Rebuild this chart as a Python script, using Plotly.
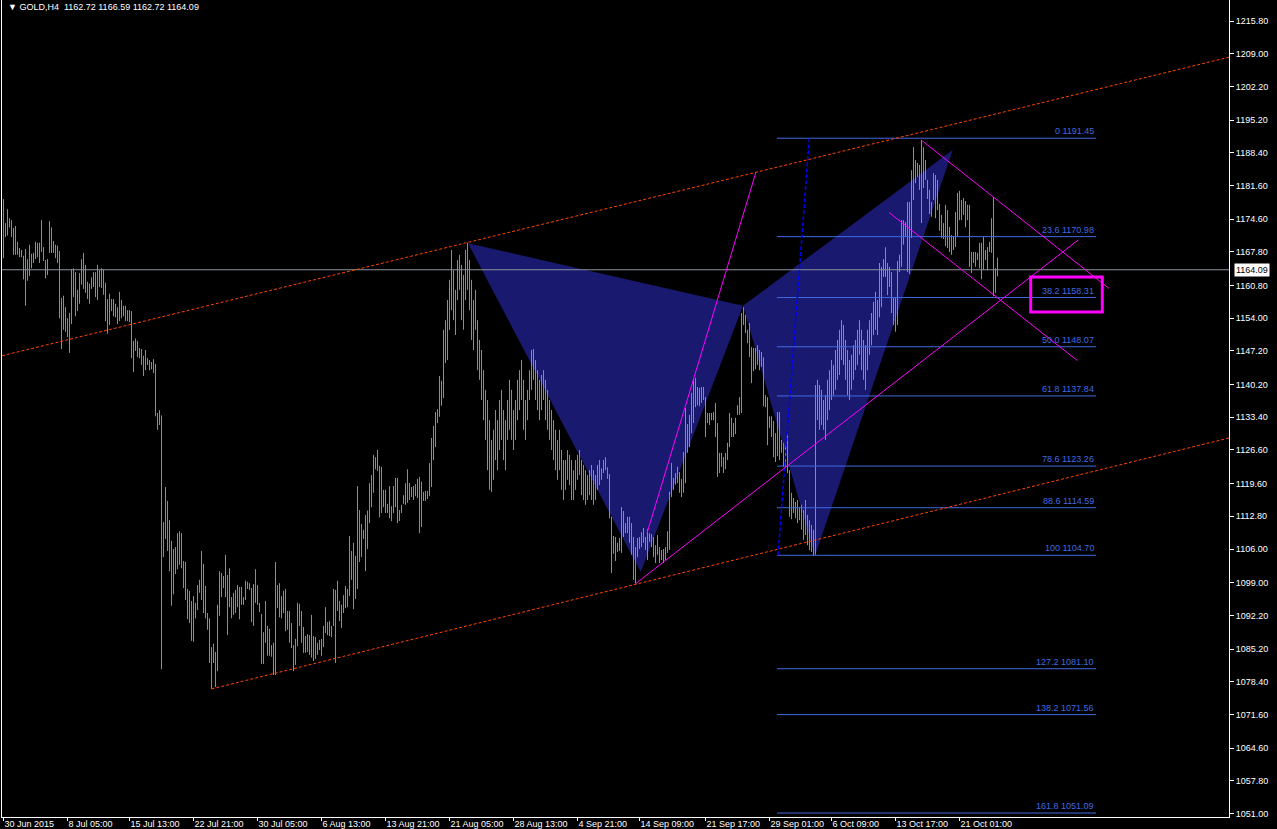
import plotly.graph_objects as go

# ---------------- data ----------------
bar_high = [
    1178.8, 1173.8, 1176.7, 1174.8, 1174.4, 1172.8, 1173.2, 1169.9, 1168.6, 1168.2,
    1167.0, 1168.4, 1166.3, 1169.3, 1167.4, 1167.6, 1169.9, 1169.7, 1169.7, 1174.4,
    1168.8, 1166.1, 1166.3, 1174.2, 1172.9, 1170.1, 1169.3, 1169.1, 1168.0, 1158.2,
    1158.7, 1156.3, 1154.0, 1155.1, 1164.2, 1164.4, 1163.6, 1159.9, 1163.4, 1166.3,
    1167.6, 1165.1, 1161.6, 1161.2, 1162.5, 1163.6, 1163.6, 1165.1, 1164.0, 1164.4,
    1164.2, 1161.4, 1158.0, 1159.1, 1158.0, 1158.0, 1157.0, 1156.3, 1159.5, 1157.8,
    1156.6, 1156.6, 1155.7, 1155.7, 1155.5, 1149.3, 1149.8, 1149.3, 1147.8, 1147.6,
    1146.2, 1147.4, 1145.7, 1145.3, 1144.9, 1145.5, 1144.5, 1134.3, 1134.9, 1133.8,
    1111.6, 1118.9, 1116.0, 1112.0, 1107.7, 1106.0, 1106.4, 1109.3, 1109.7, 1109.3,
    1103.5, 1103.3, 1097.7, 1097.3, 1095.2, 1096.2, 1094.8, 1098.5, 1099.6, 1105.6,
    1102.9, 1098.3, 1092.7, 1091.6, 1085.6, 1086.3, 1084.6, 1094.4, 1101.4, 1101.0,
    1100.4, 1104.8, 1100.6, 1102.0, 1096.0, 1096.9, 1097.5, 1098.5, 1098.1, 1098.1,
    1096.0, 1099.4, 1099.2, 1098.9, 1097.9, 1098.7, 1101.8, 1098.5, 1094.8, 1092.5,
    1088.7, 1095.2, 1090.0, 1089.4, 1086.0, 1086.5, 1103.3, 1098.5, 1098.9, 1096.2,
    1097.3, 1097.7, 1093.1, 1093.1, 1090.6, 1086.0, 1087.3, 1094.8, 1094.6, 1093.1,
    1089.8, 1087.9, 1088.3, 1088.1, 1092.3, 1087.9, 1087.7, 1086.5, 1087.1, 1087.3,
    1090.0, 1093.9, 1090.8, 1091.0, 1090.0, 1097.7, 1097.5, 1099.4, 1095.2, 1094.4,
    1096.4, 1098.3, 1097.7, 1108.7, 1105.6, 1107.3, 1104.6, 1119.1, 1114.1, 1111.2,
    1110.0, 1113.1, 1114.0, 1119.7, 1121.4, 1125.6, 1125.1, 1126.6, 1123.3, 1123.1,
    1118.3, 1118.3, 1115.4, 1119.1, 1114.9, 1119.1, 1120.8, 1120.8, 1114.1, 1115.2,
    1117.2, 1119.7, 1122.6, 1119.7, 1118.9, 1119.1, 1119.5, 1120.6, 1121.0, 1120.0,
    1117.9, 1118.1, 1118.1, 1123.9, 1129.1, 1131.6, 1134.5, 1135.1, 1142.0, 1141.0,
    1151.6, 1153.6, 1157.8, 1162.0, 1168.2, 1164.0, 1159.9, 1166.1, 1167.2, 1165.1,
    1163.0, 1168.2, 1169.7, 1166.1, 1162.0, 1157.8, 1159.9, 1153.6, 1149.5, 1147.4,
    1143.2, 1139.1, 1137.0, 1132.8, 1128.7, 1130.8, 1134.9, 1132.8, 1137.0, 1139.1,
    1134.9, 1132.8, 1137.0, 1141.2, 1139.1, 1134.9, 1137.0, 1141.2, 1143.2, 1145.3,
    1141.2, 1137.0, 1139.1, 1143.2, 1147.4, 1147.6, 1145.3, 1143.2, 1141.2, 1142.2,
    1143.2, 1141.2, 1139.1, 1137.0, 1134.9, 1132.8, 1130.8, 1128.7, 1130.8, 1126.6,
    1124.5, 1124.5, 1126.6, 1125.6, 1124.5, 1122.4, 1124.5, 1125.6, 1126.6, 1124.5,
    1123.5, 1122.4, 1121.4, 1122.4, 1123.5, 1122.4, 1121.4, 1123.5, 1124.5, 1122.8,
    1124.5, 1125.1, 1123.0, 1121.6, 1112.7, 1108.7, 1108.5, 1107.3, 1108.3, 1114.7,
    1113.9, 1111.4, 1112.7, 1112.7, 1111.4, 1108.5, 1106.4, 1108.3, 1108.5, 1109.5,
    1110.4, 1108.5, 1110.2, 1109.3, 1109.1, 1108.5, 1106.8, 1108.9, 1106.4, 1105.8,
    1106.0, 1106.4, 1109.7, 1117.9, 1123.9, 1120.8, 1121.8, 1123.1, 1122.0, 1120.6,
    1126.2, 1135.3, 1132.0, 1133.9, 1138.5, 1141.4, 1141.6, 1139.7, 1139.5, 1139.7,
    1139.7, 1137.6, 1134.3, 1134.3, 1134.3, 1134.5, 1136.4, 1132.2, 1126.0, 1126.0,
    1125.1, 1126.0, 1128.1, 1134.3, 1133.3, 1132.2, 1133.3, 1135.9, 1137.6, 1155.1,
    1156.3, 1154.7, 1151.6, 1153.0, 1148.0, 1147.8, 1147.8, 1148.4, 1147.4, 1147.0,
    1145.9, 1138.0, 1137.6, 1133.6, 1133.6, 1132.6, 1130.1, 1134.5, 1134.5, 1128.7,
    1128.1, 1127.6, 1130.1, 1122.4, 1117.7, 1116.6, 1115.8, 1116.2, 1114.7, 1115.2,
    1114.1, 1116.2, 1113.1, 1112.0, 1111.0, 1110.0, 1140.1, 1141.2, 1140.1, 1139.1,
    1137.0, 1138.0, 1141.2, 1143.2, 1145.3, 1144.3, 1147.4, 1149.5, 1151.6, 1153.6,
    1152.6, 1149.5, 1147.4, 1145.3, 1146.4, 1148.4, 1149.5, 1151.6, 1153.6, 1151.6,
    1149.5, 1148.4, 1151.6, 1153.6, 1155.1, 1157.4, 1159.5, 1157.8, 1165.5, 1164.7,
    1166.3, 1168.8, 1165.5, 1164.7, 1163.6, 1158.4, 1158.2, 1165.9, 1167.2, 1174.4,
    1174.4, 1174.0, 1178.2, 1178.2, 1184.8, 1189.6, 1186.9, 1186.3, 1185.9, 1191.1,
    1189.6, 1186.9, 1182.8, 1180.7, 1178.2, 1184.2, 1183.8, 1182.8, 1177.8, 1175.5,
    1173.8, 1177.6, 1176.5, 1173.0, 1171.3, 1171.1, 1176.1, 1180.1, 1180.5, 1178.6,
    1179.0, 1178.4, 1177.6, 1177.6, 1167.8, 1167.8, 1167.8, 1167.6, 1169.7, 1169.7,
    1170.9, 1168.2, 1168.8, 1169.9, 1174.8, 1179.2, 1164.4, 1166.6,
]
bar_low = [
    1166.5, 1170.9, 1171.2, 1172.9, 1170.9, 1167.2, 1167.2, 1167.2, 1166.7, 1166.7,
    1162.1, 1156.6, 1161.8, 1162.8, 1164.4, 1165.5, 1166.3, 1166.7, 1165.5, 1167.8,
    1165.9, 1162.3, 1163.0, 1167.6, 1167.6, 1167.6, 1166.5, 1165.5, 1154.0, 1147.6,
    1151.6, 1151.2, 1150.1, 1146.8, 1152.8, 1158.4, 1154.4, 1155.5, 1157.0, 1161.0,
    1160.1, 1159.3, 1158.0, 1157.0, 1160.1, 1160.5, 1158.4, 1157.8, 1160.5, 1160.3,
    1158.9, 1153.4, 1150.8, 1152.6, 1155.5, 1154.4, 1154.2, 1152.8, 1153.4, 1154.0,
    1154.4, 1153.4, 1153.4, 1153.2, 1145.7, 1142.8, 1147.2, 1145.9, 1145.7, 1144.3,
    1142.0, 1143.2, 1144.3, 1143.2, 1143.4, 1142.6, 1133.6, 1130.8, 1131.8, 1081.0,
    1104.3, 1108.1, 1105.6, 1101.4, 1094.2, 1096.6, 1100.8, 1101.8, 1102.7, 1102.0,
    1097.9, 1095.4, 1091.4, 1090.6, 1086.9, 1086.7, 1091.6, 1093.3, 1096.9, 1095.4,
    1092.7, 1091.6, 1089.2, 1082.3, 1076.9, 1082.3, 1077.3, 1080.6, 1092.1, 1096.0,
    1097.9, 1096.0, 1088.1, 1093.9, 1091.6, 1092.3, 1092.7, 1093.9, 1091.4, 1094.4,
    1094.4, 1095.4, 1097.7, 1097.5, 1090.8, 1090.0, 1094.8, 1094.4, 1092.9, 1082.1,
    1082.1, 1086.5, 1083.8, 1083.8, 1083.6, 1079.8, 1079.8, 1093.7, 1091.8, 1091.6,
    1092.7, 1088.9, 1089.2, 1086.5, 1085.4, 1080.6, 1081.9, 1085.8, 1090.0, 1086.5,
    1084.4, 1084.4, 1084.6, 1084.0, 1083.4, 1082.7, 1083.1, 1084.0, 1085.0, 1083.8,
    1085.6, 1088.5, 1088.1, 1087.9, 1087.7, 1090.0, 1082.3, 1093.1, 1091.0, 1089.6,
    1092.7, 1093.7, 1093.9, 1096.2, 1099.6, 1093.5, 1095.6, 1097.7, 1103.3, 1104.3,
    1108.1, 1101.4, 1106.0, 1111.4, 1114.7, 1117.7, 1122.6, 1122.2, 1112.6, 1113.5,
    1114.7, 1113.5, 1113.5, 1112.4, 1111.8, 1113.5, 1114.7, 1111.4, 1111.8, 1113.5,
    1115.4, 1115.2, 1115.6, 1116.2, 1116.8, 1116.2, 1117.0, 1116.6, 1109.3, 1110.6,
    1116.0, 1116.0, 1116.4, 1117.0, 1118.9, 1124.5, 1127.2, 1132.2, 1133.5, 1135.8,
    1137.4, 1144.7, 1145.3, 1151.6, 1155.7, 1153.6, 1150.5, 1157.8, 1159.9, 1153.6,
    1151.6, 1157.8, 1159.9, 1155.7, 1149.5, 1147.4, 1151.6, 1143.2, 1141.2, 1137.0,
    1132.8, 1128.7, 1122.4, 1118.3, 1117.9, 1120.4, 1124.5, 1122.4, 1126.6, 1128.7,
    1124.5, 1122.4, 1128.7, 1130.8, 1128.7, 1126.6, 1128.7, 1132.8, 1134.9, 1137.0,
    1130.8, 1128.7, 1132.8, 1137.0, 1139.1, 1141.2, 1137.0, 1134.9, 1132.8, 1134.9,
    1137.0, 1132.8, 1130.8, 1128.7, 1126.6, 1124.5, 1122.4, 1120.4, 1122.4, 1118.3,
    1116.2, 1118.3, 1120.4, 1119.3, 1116.2, 1116.2, 1118.3, 1120.4, 1121.4, 1117.2,
    1116.2, 1115.2, 1116.2, 1117.2, 1116.2, 1115.2, 1116.2, 1118.3, 1119.3, 1120.4,
    1121.8, 1122.4, 1120.6, 1112.4, 1101.0, 1105.0, 1103.5, 1105.4, 1105.6, 1105.2,
    1108.5, 1109.3, 1109.3, 1107.3, 1104.8, 1099.6, 1098.9, 1104.3, 1106.0, 1106.4,
    1107.3, 1105.8, 1103.7, 1107.5, 1106.4, 1104.3, 1103.1, 1104.8, 1103.1, 1103.7,
    1103.1, 1103.7, 1105.2, 1105.8, 1116.8, 1118.3, 1119.4, 1119.7, 1117.7, 1116.8,
    1117.7, 1119.7, 1126.0, 1127.2, 1130.1, 1132.2, 1135.5, 1135.9, 1135.7, 1136.4,
    1137.0, 1129.3, 1132.2, 1131.8, 1132.8, 1132.8, 1129.3, 1121.0, 1121.8, 1123.1,
    1121.8, 1122.6, 1124.5, 1127.2, 1129.3, 1129.3, 1129.9, 1133.9, 1133.9, 1134.3,
    1152.6, 1150.9, 1148.8, 1145.9, 1140.5, 1143.0, 1143.4, 1144.3, 1143.2, 1143.9,
    1135.7, 1135.5, 1127.6, 1131.2, 1129.3, 1125.1, 1124.1, 1125.3, 1124.5, 1126.0,
    1123.1, 1123.1, 1121.8, 1112.7, 1112.2, 1113.5, 1112.4, 1111.4, 1112.0, 1110.0,
    1107.9, 1108.9, 1106.8, 1105.8, 1105.4, 1104.6, 1104.8, 1132.8, 1130.8, 1131.8,
    1130.8, 1128.7, 1132.8, 1134.9, 1137.0, 1138.0, 1139.1, 1141.2, 1142.2, 1145.3,
    1144.3, 1141.2, 1138.0, 1137.0, 1139.1, 1141.2, 1143.2, 1144.3, 1146.4, 1143.2,
    1141.2, 1139.1, 1143.2, 1146.4, 1148.4, 1150.5, 1151.6, 1150.5, 1154.2, 1156.3,
    1162.6, 1162.6, 1158.8, 1160.5, 1155.1, 1152.6, 1151.2, 1152.6, 1163.6, 1164.7,
    1169.3, 1170.9, 1163.6, 1163.2, 1170.7, 1178.6, 1182.1, 1183.4, 1180.7, 1173.8,
    1181.1, 1182.8, 1178.8, 1175.7, 1175.1, 1178.6, 1174.8, 1176.5, 1172.2, 1170.7,
    1170.5, 1169.0, 1168.6, 1167.8, 1167.2, 1168.2, 1168.8, 1170.9, 1174.4, 1174.4,
    1175.5, 1172.9, 1174.4, 1164.7, 1163.4, 1165.5, 1164.7, 1166.1, 1164.4, 1162.1,
    1164.0, 1166.1, 1164.0, 1167.8, 1167.6, 1158.6, 1159.3, 1162.7,
]

x_tick_bars = [0, 32, 63, 95, 127, 159, 191, 223, 255, 287, 318, 351, 383, 414, 446, 478]
x_tick_labels = ["30 Jun 2015", "8 Jul 05:00", "15 Jul 13:00", "22 Jul 21:00", "30 Jul 05:00",
                 "6 Aug 13:00", "13 Aug 21:00", "21 Aug 05:00", "28 Aug 13:00", "4 Sep 21:00",
                 "14 Sep 09:00", "21 Sep 17:00", "29 Sep 01:00", "6 Oct 09:00", "13 Oct 17:00",
                 "21 Oct 01:00"]
y_tick_labels = ["1051.00", "1057.80", "1064.60", "1071.60", "1078.40", "1085.20", "1092.20",
                 "1099.00", "1106.00", "1112.80", "1119.60", "1126.60", "1133.40", "1140.20",
                 "1147.20", "1154.00", "1160.80", "1167.80", "1174.60", "1181.60", "1188.40",
                 "1195.20", "1202.20", "1209.00", "1215.80"]

# harmonic pattern points (bar index, price): X A B and B C D
pattern_xab_bar = [232.25, 318.6, 369.75]
pattern_xab_price = [1169.6, 1101.2, 1156.6]
pattern_bcd_bar = [369.75, 405.75, 474.6]
pattern_bcd_price = [1156.6, 1104.6, 1189.0]

# trend lines (bar index pairs, price pairs)
upper_channel_bar = [-0.75, 612.75]
upper_channel_price = [1146.2, 1208.3]
lower_channel_bar = [104, 612.75]
lower_channel_price = [1076.9, 1129.1]

magenta_lines_bar = [[321.75, 376.25], [315.75, 537.4], [459.4, 552.75], [442.75, 536.9]]
magenta_lines_price = [[1109.3, 1184.4], [1098.7, 1170.3], [1190.9, 1160.2], [1176.0, 1145.2]]

fibo_anchor_bar = [387.25, 402.9]
fibo_anchor_price = [1104.70, 1191.45]
fibo_span_bar = [386.75, 546.25]
fibo_ratio = ["0", "23.6", "38.2", "50.0", "61.8", "78.6", "88.6", "100", "127.2", "138.2", "161.8"]
fibo_price = [1191.45, 1170.98, 1158.31, 1148.07, 1137.84, 1123.26, 1114.59, 1104.70,
              1081.10, 1071.56, 1051.09]

box_bar = [513.6, 549.4]
box_price = [1155.3, 1162.6]

bid_price = 1164.09
header = "▼ GOLD,H4\u00a0\u00a01162.72 1166.59 1162.72 1164.09"

# ---------------- figure ----------------
FONT = "Liberation Sans, Arial, sans-serif"
BAR_COLOR = "#32CD32"
FIB_COLOR = "#4169E1"

fig = go.Figure()

# pattern triangles (background)
for bx, py in ((pattern_xab_bar, pattern_xab_price), (pattern_bcd_bar, pattern_bcd_price)):
    fig.add_trace(go.Scatter(x=bx + [bx[0]], y=py + [py[0]], mode="lines", fill="toself",
                             fillcolor="#191970", line=dict(width=0, color="#191970"),
                             hoverinfo="skip"))

# bid line
fig.add_trace(go.Scatter(x=[upper_channel_bar[0], upper_channel_bar[1]], y=[bid_price, bid_price],
                         mode="lines", line=dict(color="#8c949c", width=1), hoverinfo="skip"))

# price bars
bx, by = [], []
for i, (h, l) in enumerate(zip(bar_high, bar_low)):
    bx += [i, i, None]
    by += [l, h, None]
fig.add_trace(go.Scatter(x=bx, y=by, mode="lines", line=dict(color=BAR_COLOR, width=1),
                         hoverinfo="skip"))

# fibonacci levels
fx, fy = [], []
for p in fibo_price:
    fx += [fibo_span_bar[0], fibo_span_bar[1], None]
    fy += [p, p, None]
fig.add_trace(go.Scatter(x=fx, y=fy, mode="lines", line=dict(color=FIB_COLOR, width=1),
                         hoverinfo="skip"))
fig.add_trace(go.Scatter(x=fibo_anchor_bar, y=fibo_anchor_price, mode="lines",
                         line=dict(color="#0000FF", width=1.5, dash="4px,2px"), hoverinfo="skip"))

# channel lines
for bxs, pys in ((upper_channel_bar, upper_channel_price), (lower_channel_bar, lower_channel_price)):
    fig.add_trace(go.Scatter(x=bxs, y=pys, mode="lines",
                             line=dict(color="#FF4500", width=1, dash="3px,2px"), hoverinfo="skip"))

# magenta trend lines
for bxs, pys in zip(magenta_lines_bar, magenta_lines_price):
    fig.add_trace(go.Scatter(x=bxs, y=pys, mode="lines", line=dict(color="#FF00FF", width=1),
                             hoverinfo="skip"))

# highlight box
fig.add_shape(type="rect", x0=box_bar[0], x1=box_bar[1], y0=box_price[0], y1=box_price[1],
              line=dict(color="#FF00FF", width=3), fillcolor="rgba(0,0,0,0)", layer="above")

annotations = []
for r, p in zip(fibo_ratio, fibo_price):
    annotations.append(dict(x=fibo_span_bar[1], y=p, xref="x", yref="y", text=f"{r} {p:.2f}",
                            showarrow=False, xanchor="right", yanchor="bottom", yshift=0,
                            font=dict(family=FONT, size=9, color=FIB_COLOR)))
annotations.append(dict(x=0, y=1, xref="paper", yref="paper", text=header, showarrow=False,
                        xanchor="left", yanchor="top", xshift=4, yshift=0,
                        font=dict(family=FONT, size=9, color="white")))
annotations.append(dict(x=1, y=bid_price, xref="paper", yref="y", text=f"{bid_price:.2f}",
                        showarrow=False, xanchor="left", xshift=5, bgcolor="white",
                        borderpad=1, font=dict(family=FONT, size=9, color="black")))

fig.update_layout(
    width=1277, height=829,
    paper_bgcolor="black", plot_bgcolor="black",
    margin=dict(l=2, r=48, t=0, b=12),
    showlegend=False,
    annotations=annotations,
    xaxis=dict(range=[-0.75, 612.75], showgrid=False, zeroline=False,
               showline=True, linecolor="white", linewidth=1,
               ticks="outside", ticklen=3, tickcolor="white", tickwidth=1,
               tickvals=x_tick_bars, ticktext=x_tick_labels,
               ticklabelposition="outside right", ticklabelstandoff=-2,
               tickfont=dict(family=FONT, size=9, color="white")),
    yaxis=dict(range=[1050.26, 1220.2], side="right", showgrid=False, zeroline=False,
               showline=True, mirror=True, linecolor="white", linewidth=1,
               ticks="outside", ticklen=4, tickcolor="white", tickwidth=1,
               tickvals=[float(t) for t in y_tick_labels], ticktext=y_tick_labels,
               tickfont=dict(family=FONT, size=9, color="white")),
)

fig.write_html("out.html", config={"displayModeBar": False},
               post_script="document.body.style.margin='0';document.body.style.overflow='hidden';")
